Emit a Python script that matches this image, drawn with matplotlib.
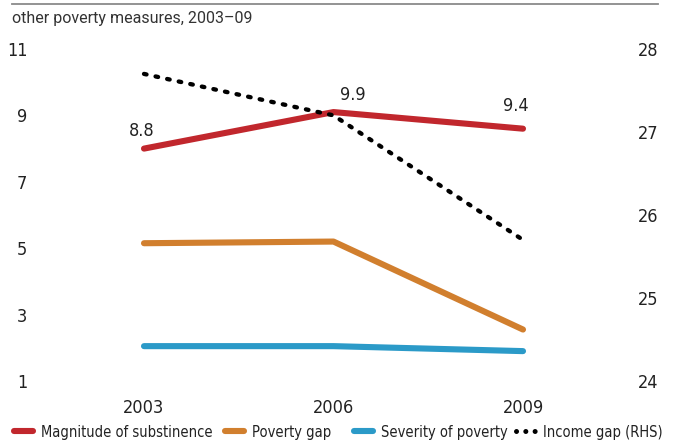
import matplotlib
matplotlib.use("Agg")
import matplotlib.pyplot as plt
from matplotlib.lines import Line2D

years = [2003, 2006, 2009]
subsistence = [8.8, 9.9, 9.4]
poverty_gap = [5.15, 5.2, 2.55]
severity = [2.05, 2.05, 1.9]
income_gap = [27.7, 27.2, 25.7]

left_ticks = [1, 3, 5, 7, 9, 11]
right_ticks = [24, 25, 26, 27, 28]
series_names = ["Magnitude of substinence", "Poverty gap",
                "Severity of poverty", "Income gap (RHS)"]
title = "other poverty measures, 2003\u201309"

RED = "#C1272D"
ORANGE = "#D17F2E"
BLUE = "#2B9AC8"
INK = "#222222"

narrow = dict(family="DejaVu Sans", stretch="condensed")

W, H = 673, 441
fig = plt.figure(figsize=(W / 100, H / 100), dpi=100)

L, R, B, T = 40, 640, 381, 49
ax = fig.add_axes([L / W, 1 - B / H, (R - L) / W, (B - T) / H])
scale = (523 - 144) / 6
ax.set_xlim(2003 - (144 - L) / scale, 2009 + (R - 523) / scale)
ax.set_ylim(1, 11)

lw = 4.4
kw = dict(lw=lw, solid_capstyle="round", solid_joinstyle="round", clip_on=False)
ax.plot(years, poverty_gap, color=ORANGE, **kw)
ax.plot(years, severity, color=BLUE, **kw)

# substinence series on its own (hidden) scale
ax_s = ax.twinx()
ax_s.set_ylim(1.8, 11.8)
ax_s.plot(years, subsistence, color=RED, **kw)
ax_s.axis("off")
label_offsets = [(-2, 13), (14, 12), (-5, 16)]
for x, v, off in zip(years, subsistence, label_offsets):
    ax_s.annotate(f"{v:.1f}", (x, v), xytext=off, textcoords="offset points",
                  ha="center", va="center", fontsize=13, color=INK, **narrow)

dots = dict(color="black", lw=3.1, linestyle=(0, (0.6, 2.15)),
            dash_capstyle="round")
ax_r = ax.twinx()
ax_r.set_ylim(24, 28)
ax_r.plot(years, income_gap, clip_on=False, **dots)

for a in (ax, ax_s, ax_r):
    for s in a.spines.values():
        s.set_visible(False)
    a.patch.set_visible(False)

ax.set_xticks(years)
ax.set_xticklabels([str(y) for y in years], fontsize=13, color=INK, **narrow)
ax.set_yticks(left_ticks)
ax.set_yticklabels([str(t) for t in left_ticks], fontsize=13, color=INK, **narrow)
ax.tick_params(axis="both", length=0)
ax.tick_params(axis="y", pad=9)
ax.tick_params(axis="x", pad=13)

ax_r.set_yticks(right_ticks)
ax_r.set_yticklabels([str(t) for t in right_ticks], fontsize=13, color=INK, **narrow)
ax_r.tick_params(axis="y", length=0, pad=13)
for t in ax_r.get_yticklabels():
    t.set_ha("right")

# top rule and title
fig.add_artist(Line2D([12 / W, 658 / W], [1 - 4 / H, 1 - 4 / H],
                      color="#8a8a8a", lw=1.3))
fig.text(12 / W, 1 - 19 / H, title, ha="left", va="center",
         fontsize=11.5, color="#333333", family="Roboto")

# legend: one entry per series, placed along the bottom edge
handles = [
    Line2D([], [], color=RED, lw=4.4, solid_capstyle="round"),
    Line2D([], [], color=ORANGE, lw=4.4, solid_capstyle="round"),
    Line2D([], [], color=BLUE, lw=4.4, solid_capstyle="round"),
    Line2D([], [], color="black", lw=3.6, linestyle=(0, (0.01, 1.85)),
           dash_capstyle="round"),
]
entry_x = [14, 225, 354, 516]
leg_size = 10.5
for h, name, x0 in zip(handles, series_names, entry_x):
    leg = fig.legend([h], [name], loc="center left",
                     bbox_to_anchor=(x0 / W, 1 - 432 / H), frameon=False,
                     prop={"size": leg_size, **narrow}, handlelength=1.3,
                     handletextpad=0.55, borderaxespad=0, borderpad=0,
                     labelcolor=INK)

fig.savefig("out.png", dpi=100)
